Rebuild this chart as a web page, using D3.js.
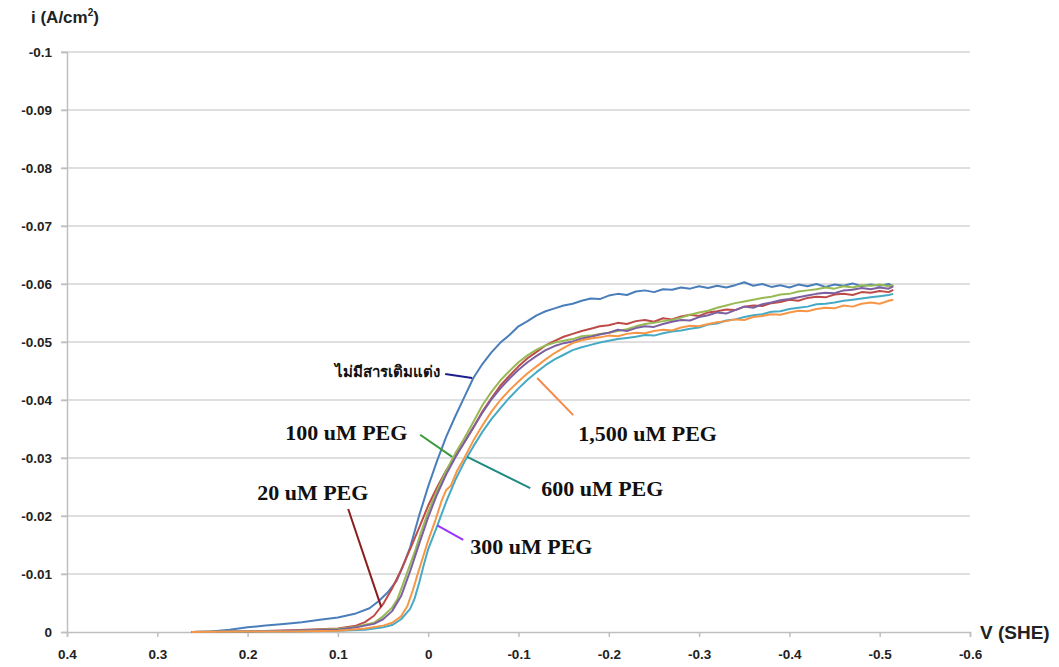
<!DOCTYPE html>
<html>
<head>
<meta charset="utf-8">
<script src="https://cdn.jsdelivr.net/npm/d3@7"></script>
<style>
  body { margin: 0; background: #fff; }
  .tick text { font-family: "Liberation Sans", Arial, sans-serif; font-weight: bold; font-size: 13.5px; fill: #222; }
  .note { font-family: "Liberation Serif", "Times New Roman", serif; font-weight: bold; font-size: 22px; fill: #111; }
</style>
</head>
<body>
<svg id="chart"></svg>
<script>
// tick values
const xTicks = [0.4, 0.3, 0.2, 0.1, 0, -0.1, -0.2, -0.3, -0.4, -0.5, -0.6];
const yTicks = [0, -0.01, -0.02, -0.03, -0.04, -0.05, -0.06, -0.07, -0.08, -0.09, -0.1];

// series names
const seriesNames = ['ไม่มีสารเติมแต่ง', '20 uM PEG', '100 uM PEG', '300 uM PEG', '600 uM PEG', '1,500 uM PEG'];

// [V (SHE), i (A/cm2)]
const noAdditive = [[0.262,0],[0.24,-0.0001],[0.22,-0.0004],[0.2,-0.0008],[0.18,-0.0011],[0.16,-0.0014],[0.14,-0.0017],[0.12,-0.0021],[0.1,-0.0025],[0.08,-0.0032],[0.065,-0.0041],[0.055,-0.0053],[0.045,-0.0068],[0.035,-0.0088],[0.028,-0.0113],[0.02,-0.0146],[0.01,-0.0201],[0.0,-0.0251],[-0.01,-0.0296],[-0.02,-0.0337],[-0.03,-0.0372],[-0.04,-0.0405],[-0.05,-0.0438],[-0.06,-0.0462],[-0.07,-0.0482],[-0.08,-0.0499],[-0.09,-0.0512],[-0.1,-0.0527],[-0.11,-0.0536],[-0.12,-0.0546],[-0.13,-0.0553],[-0.14,-0.0558],[-0.15,-0.0563],[-0.16,-0.0566],[-0.17,-0.0571],[-0.18,-0.0575],[-0.19,-0.0574],[-0.2,-0.058],[-0.21,-0.0583],[-0.22,-0.0581],[-0.23,-0.0587],[-0.24,-0.0589],[-0.25,-0.0586],[-0.26,-0.0591],[-0.27,-0.059],[-0.28,-0.0594],[-0.29,-0.0592],[-0.3,-0.0596],[-0.31,-0.0593],[-0.32,-0.0597],[-0.33,-0.0594],[-0.34,-0.0598],[-0.35,-0.0603],[-0.36,-0.0597],[-0.37,-0.06],[-0.38,-0.0595],[-0.39,-0.0598],[-0.4,-0.0594],[-0.41,-0.0599],[-0.42,-0.0596],[-0.43,-0.06],[-0.44,-0.0595],[-0.45,-0.0599],[-0.46,-0.0597],[-0.47,-0.0601],[-0.48,-0.0596],[-0.49,-0.0599],[-0.5,-0.0597],[-0.51,-0.06],[-0.515,-0.0596]];

const peg20 = [[0.262,0],[0.2,-0.0001],[0.15,-0.0003],[0.1,-0.0006],[0.08,-0.0011],[0.07,-0.0017],[0.06,-0.0028],[0.05,-0.0048],[0.04,-0.0075],[0.03,-0.0107],[0.02,-0.0143],[0.01,-0.018],[0.0,-0.0218],[-0.01,-0.025],[-0.02,-0.0279],[-0.03,-0.0303],[-0.04,-0.0327],[-0.05,-0.0352],[-0.06,-0.038],[-0.07,-0.0403],[-0.08,-0.0425],[-0.09,-0.0442],[-0.1,-0.0458],[-0.11,-0.0472],[-0.12,-0.0483],[-0.13,-0.0494],[-0.14,-0.0502],[-0.15,-0.0509],[-0.16,-0.0514],[-0.17,-0.0519],[-0.18,-0.0523],[-0.19,-0.0527],[-0.2,-0.0529],[-0.21,-0.0533],[-0.22,-0.0531],[-0.23,-0.0536],[-0.24,-0.0538],[-0.25,-0.0535],[-0.26,-0.0541],[-0.27,-0.0539],[-0.28,-0.0544],[-0.29,-0.0547],[-0.3,-0.0545],[-0.31,-0.0551],[-0.32,-0.0553],[-0.33,-0.0556],[-0.34,-0.0555],[-0.35,-0.0561],[-0.36,-0.0563],[-0.37,-0.0562],[-0.38,-0.0567],[-0.39,-0.0569],[-0.4,-0.0573],[-0.41,-0.0571],[-0.42,-0.0576],[-0.43,-0.0578],[-0.44,-0.0577],[-0.45,-0.0582],[-0.46,-0.0583],[-0.47,-0.0581],[-0.48,-0.0586],[-0.49,-0.0585],[-0.5,-0.0588],[-0.51,-0.0586],[-0.515,-0.059]];

const peg100 = [[0.262,0],[0.2,-0.0001],[0.15,-0.0002],[0.1,-0.0005],[0.08,-0.0009],[0.06,-0.0016],[0.05,-0.0027],[0.04,-0.0042],[0.034,-0.0057],[0.028,-0.0082],[0.022,-0.0108],[0.014,-0.0142],[0.008,-0.0172],[0.0,-0.0207],[-0.01,-0.0245],[-0.02,-0.0278],[-0.03,-0.0308],[-0.04,-0.0334],[-0.05,-0.0362],[-0.06,-0.0391],[-0.07,-0.0414],[-0.08,-0.0434],[-0.09,-0.045],[-0.1,-0.0465],[-0.11,-0.0477],[-0.12,-0.0487],[-0.13,-0.0494],[-0.14,-0.0499],[-0.15,-0.0502],[-0.16,-0.0505],[-0.17,-0.051],[-0.18,-0.0511],[-0.19,-0.0514],[-0.2,-0.0516],[-0.21,-0.0519],[-0.22,-0.0522],[-0.23,-0.0527],[-0.24,-0.0531],[-0.25,-0.0533],[-0.26,-0.0536],[-0.27,-0.0538],[-0.28,-0.0542],[-0.29,-0.0547],[-0.3,-0.0551],[-0.31,-0.0554],[-0.32,-0.0559],[-0.33,-0.0563],[-0.34,-0.0567],[-0.35,-0.057],[-0.36,-0.0573],[-0.37,-0.0576],[-0.38,-0.0578],[-0.39,-0.0582],[-0.4,-0.0583],[-0.41,-0.0587],[-0.42,-0.0589],[-0.43,-0.0591],[-0.44,-0.0594],[-0.45,-0.0592],[-0.46,-0.0596],[-0.47,-0.0594],[-0.48,-0.0598],[-0.49,-0.0597],[-0.5,-0.0599],[-0.51,-0.0596],[-0.515,-0.0598]];

const peg300 = [[0.262,0],[0.2,-0.0001],[0.15,-0.0002],[0.1,-0.0004],[0.08,-0.0008],[0.06,-0.0014],[0.05,-0.0022],[0.04,-0.0036],[0.03,-0.0062],[0.02,-0.0105],[0.01,-0.0152],[0.0,-0.0198],[-0.01,-0.0238],[-0.02,-0.0272],[-0.03,-0.0301],[-0.04,-0.0327],[-0.05,-0.0353],[-0.06,-0.0378],[-0.07,-0.0401],[-0.08,-0.042],[-0.09,-0.0437],[-0.1,-0.0452],[-0.11,-0.0465],[-0.12,-0.0476],[-0.13,-0.0486],[-0.14,-0.0493],[-0.15,-0.0498],[-0.16,-0.0501],[-0.17,-0.0506],[-0.18,-0.0509],[-0.19,-0.0513],[-0.2,-0.0516],[-0.21,-0.0521],[-0.22,-0.0519],[-0.23,-0.0524],[-0.24,-0.0527],[-0.25,-0.0526],[-0.26,-0.0531],[-0.27,-0.0535],[-0.28,-0.0538],[-0.29,-0.0537],[-0.3,-0.0543],[-0.31,-0.0546],[-0.32,-0.0551],[-0.33,-0.0549],[-0.34,-0.0555],[-0.35,-0.0561],[-0.36,-0.0559],[-0.37,-0.0565],[-0.38,-0.0568],[-0.39,-0.0572],[-0.4,-0.0574],[-0.41,-0.0577],[-0.42,-0.058],[-0.43,-0.0583],[-0.44,-0.0585],[-0.45,-0.0584],[-0.46,-0.0589],[-0.47,-0.059],[-0.48,-0.0593],[-0.49,-0.0591],[-0.5,-0.0594],[-0.51,-0.0592],[-0.515,-0.0596]];

const peg600 = [[0.262,0],[0.2,-0.0001],[0.15,-0.0001],[0.1,-0.0002],[0.07,-0.0004],[0.05,-0.0008],[0.04,-0.0012],[0.03,-0.0022],[0.02,-0.004],[0.015,-0.0058],[0.01,-0.0085],[0.005,-0.0115],[0.0,-0.0143],[-0.01,-0.0183],[-0.02,-0.0225],[-0.03,-0.0262],[-0.04,-0.0293],[-0.05,-0.032],[-0.06,-0.0345],[-0.07,-0.0367],[-0.08,-0.0386],[-0.09,-0.0404],[-0.1,-0.042],[-0.11,-0.0435],[-0.12,-0.0448],[-0.13,-0.046],[-0.14,-0.047],[-0.15,-0.0478],[-0.16,-0.0486],[-0.17,-0.0491],[-0.18,-0.0495],[-0.19,-0.0499],[-0.2,-0.0502],[-0.21,-0.0505],[-0.22,-0.0507],[-0.23,-0.0509],[-0.24,-0.0512],[-0.25,-0.0511],[-0.26,-0.0515],[-0.27,-0.0518],[-0.28,-0.052],[-0.29,-0.0523],[-0.3,-0.0525],[-0.31,-0.053],[-0.32,-0.0532],[-0.33,-0.0537],[-0.34,-0.0539],[-0.35,-0.0543],[-0.36,-0.0546],[-0.37,-0.0548],[-0.38,-0.0552],[-0.39,-0.0553],[-0.4,-0.0557],[-0.41,-0.0559],[-0.42,-0.0561],[-0.43,-0.0565],[-0.44,-0.0566],[-0.45,-0.0568],[-0.46,-0.0571],[-0.47,-0.0573],[-0.48,-0.0575],[-0.49,-0.0577],[-0.5,-0.0579],[-0.51,-0.0581],[-0.515,-0.0583]];

const peg1500 = [[0.262,0],[0.2,-0.0001],[0.15,-0.0001],[0.1,-0.0002],[0.07,-0.0006],[0.05,-0.0011],[0.04,-0.0016],[0.03,-0.0027],[0.023,-0.0045],[0.017,-0.0072],[0.012,-0.0098],[0.006,-0.0128],[0.0,-0.0158],[-0.008,-0.0193],[-0.015,-0.0227],[-0.02,-0.0245],[-0.025,-0.0252],[-0.032,-0.0278],[-0.04,-0.03],[-0.05,-0.033],[-0.06,-0.0356],[-0.07,-0.038],[-0.08,-0.04],[-0.09,-0.0417],[-0.1,-0.0432],[-0.11,-0.0446],[-0.12,-0.0458],[-0.13,-0.047],[-0.14,-0.0481],[-0.15,-0.049],[-0.16,-0.0498],[-0.17,-0.0503],[-0.18,-0.0506],[-0.19,-0.0508],[-0.2,-0.0511],[-0.21,-0.051],[-0.22,-0.0514],[-0.23,-0.0516],[-0.24,-0.0515],[-0.25,-0.0519],[-0.26,-0.0521],[-0.27,-0.052],[-0.28,-0.0525],[-0.29,-0.0528],[-0.3,-0.0527],[-0.31,-0.0531],[-0.32,-0.0534],[-0.33,-0.0536],[-0.34,-0.0539],[-0.35,-0.0538],[-0.36,-0.0543],[-0.37,-0.0545],[-0.38,-0.0548],[-0.39,-0.0547],[-0.4,-0.0551],[-0.41,-0.0554],[-0.42,-0.0553],[-0.43,-0.0557],[-0.44,-0.0559],[-0.45,-0.0558],[-0.46,-0.0563],[-0.47,-0.0561],[-0.48,-0.0566],[-0.49,-0.0568],[-0.5,-0.0566],[-0.51,-0.0571],[-0.515,-0.0573]];

const seriesData = [noAdditive, peg20, peg100, peg300, peg600, peg1500];
const seriesColors = ['#4A7EBB', '#BE4B48', '#98B954', '#7D60A0', '#46AAC5', '#F79646'];

// callout labels, placed in data units: text anchor, leader start, leader end
const callouts = [
  { name: seriesNames[0], anchor: 'end',   tx: -0.0133, ty: -0.0448, x1: -0.0188, y1: -0.0445, x2: -0.0487, y2: -0.0438, color: '#1F1F8C' },
  { name: seriesNames[1], anchor: 'start', tx: 0.1894,  ty: -0.0241, x1: 0.0886,  y1: -0.0212, x2: 0.052,   y2: -0.0043, color: '#8B1C1C' },
  { name: seriesNames[2], anchor: 'start', tx: 0.1584,  ty: -0.0345, x1: 0.0089,  y1: -0.034,  x2: -0.0266, y2: -0.0302, color: '#3A9A3A' },
  { name: seriesNames[3], anchor: 'start', tx: -0.0465, ty: -0.0147, x1: -0.01,   y1: -0.0184, x2: -0.0388, y2: -0.0159, color: '#9933FF' },
  { name: seriesNames[4], anchor: 'start', tx: -0.1251, ty: -0.0247, x1: -0.0432, y1: -0.0302, x2: -0.113,  y2: -0.0248, color: '#1F8A80' },
  { name: seriesNames[5], anchor: 'start', tx: -0.1661, ty: -0.0343, x1: -0.1207, y1: -0.0438, x2: -0.1606, y2: -0.0374, color: '#F7894A' }
];

const width = 1059, height = 667;
const margin = { top: 52, right: 89, bottom: 35, left: 67 };

const svg = d3.select('#chart')
  .attr('width', width)
  .attr('height', height);

const x = d3.scaleLinear()
  .domain([0.4, -0.6])
  .range([margin.left, width - margin.right]);

const y = d3.scaleLinear()
  .domain([0, -0.1])
  .range([height - margin.bottom, margin.top]);

// horizontal gridlines
svg.append('g')
  .selectAll('line')
  .data(yTicks.slice(1))
  .join('line')
  .attr('x1', x(0.4) - 6)
  .attr('x2', x(-0.6))
  .attr('y1', d => y(d))
  .attr('y2', d => y(d))
  .style('stroke', '#d4d4d4')
  .style('stroke-width', '1.6px');

// y axis
const yAxis = svg.append('g')
  .attr('transform', `translate(${x(0.4)}, 0)`)
  .call(d3.axisLeft(y).tickValues(yTicks).tickSize(6).tickPadding(9)
    .tickFormat(d => d === 0 ? '0' : d3.format('.2~f')(d).replace('−', '-')));
yAxis.select('.domain').style('stroke', '#bfbfbf').style('stroke-width', '1.5px');
yAxis.selectAll('.tick line').style('stroke', '#bfbfbf').style('stroke-width', '1.5px');

// x axis
const xAxis = svg.append('g')
  .attr('transform', `translate(0, ${y(0)})`)
  .call(d3.axisBottom(x).tickValues(xTicks).tickSize(5).tickPadding(12)
    .tickFormat(d => d === 0 ? '0' : d3.format('.1f')(d).replace('−', '-')));
xAxis.select('.domain').style('stroke', '#bfbfbf').style('stroke-width', '1.5px');
xAxis.selectAll('.tick line').style('stroke', '#bfbfbf').style('stroke-width', '1.5px');

// series lines
const line = d3.line()
  .x(d => x(d[0]))
  .y(d => y(d[1]));

svg.append('g')
  .selectAll('path')
  .data(seriesData)
  .join('path')
  .attr('d', line)
  .style('fill', 'none')
  .style('stroke', (d, i) => seriesColors[i])
  .style('stroke-width', '2px')
  .style('stroke-linejoin', 'round');

// callouts
const notes = svg.append('g');
callouts.forEach(c => {
  notes.append('line')
    .attr('x1', x(c.x1)).attr('y1', y(c.y1))
    .attr('x2', x(c.x2)).attr('y2', y(c.y2))
    .style('stroke', c.color)
    .style('stroke-width', '2px');
  notes.append('text')
    .attr('class', 'note')
    .attr('x', x(c.tx))
    .attr('y', y(c.ty))
    .attr('dy', '0.35em')
    .attr('text-anchor', c.anchor)
    .style('font-size', c.anchor === 'end' ? '15px' : null)
    .text(c.name);
});

// axis titles
const yTitle = svg.append('text')
  .attr('x', 31)
  .attr('y', 23)
  .style('font-family', '"Liberation Sans", Arial, sans-serif')
  .style('font-weight', 'bold')
  .style('font-size', '17px')
  .style('fill', '#222');
yTitle.append('tspan').text('i (A/cm');
yTitle.append('tspan').attr('dy', -7).style('font-size', '10px').text('2');
yTitle.append('tspan').attr('dy', 7).text(')');

svg.append('text')
  .attr('x', x(-0.6) + 10)
  .attr('y', y(0))
  .attr('dy', '0.35em')
  .style('font-family', '"Liberation Sans", Arial, sans-serif')
  .style('font-weight', 'bold')
  .style('font-size', '19px')
  .style('fill', '#222')
  .text('V (SHE)');
</script>
</body>
</html>
